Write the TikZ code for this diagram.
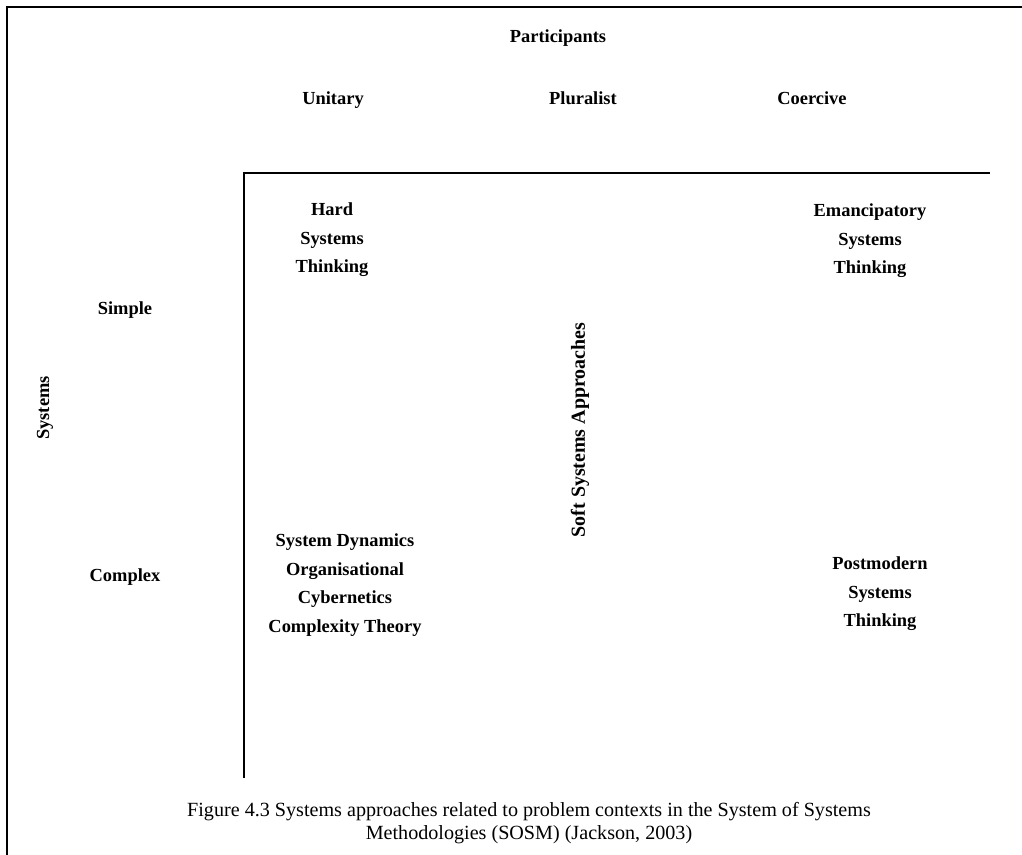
\documentclass[tikz,border=0pt]{standalone}
\usepackage{fontspec}
\setmainfont{Liberation Serif}
\begin{document}
\begin{tikzpicture}[x=1bp,y=-1bp,
  lab/.style={font=\fontsize{18.5}{28.5}\selectfont\bfseries, align=center, inner sep=0pt},
  head/.style={lab, anchor=base},
  captext/.style={font=\fontsize{20.2}{23}\selectfont, align=center, inner sep=0pt},
  frame/.style={line width=1.6bp},
  axis/.style={line width=1.3bp}]
\useasboundingbox (0,0) rectangle (1022,855);

% outer frame (top and left edges)
\coordinate (fbl) at (7,855);
\coordinate (ftl) at (7,7);
\coordinate (ftr) at (1022,7);
\draw[frame] (fbl) -- (ftl) -- (ftr);

% axes of the grid
\coordinate (abot) at (244,778);
\coordinate (aorg) at (244,173);
\coordinate (aright) at (990,173);
\draw[axis] (abot) -- (aorg) -- (aright);

% column headings
\node[head] (participants) at (558,42) {Participants};
\node[head] (unitary) at (333,104) {Unitary};
\node[head] (pluralist) at (583,104) {Pluralist};
\node[head] (coercive) at (812,104) {Coercive};

% row headings
\node[lab, rotate=90] (systems) at (45,408) {Systems};
\node[head] (simple) at (125,314) {Simple};
\node[head] (complex) at (125,581) {Complex};

% cells
\node[lab] (hard) at (332,240) {Hard\\Systems\\Thinking};
\node[lab] (emancip) at (870,241) {Emancipatory\\Systems\\Thinking};
\node[lab, rotate=90, font=\fontsize{20}{24}\selectfont\bfseries] (soft) at (580,430) {Soft Systems Approaches};
\node[lab] (sysdyn) at (345,585) {System Dynamics\\Organisational\\Cybernetics\\Complexity Theory};
\node[lab] (postmod) at (880,594) {Postmodern\\Systems\\Thinking};

% caption
\node[captext] (caption) at (529,823) {Figure 4.3 Systems approaches related to problem contexts in the System of Systems\\Methodologies (SOSM) (Jackson, 2003)};
\end{tikzpicture}
\end{document}
